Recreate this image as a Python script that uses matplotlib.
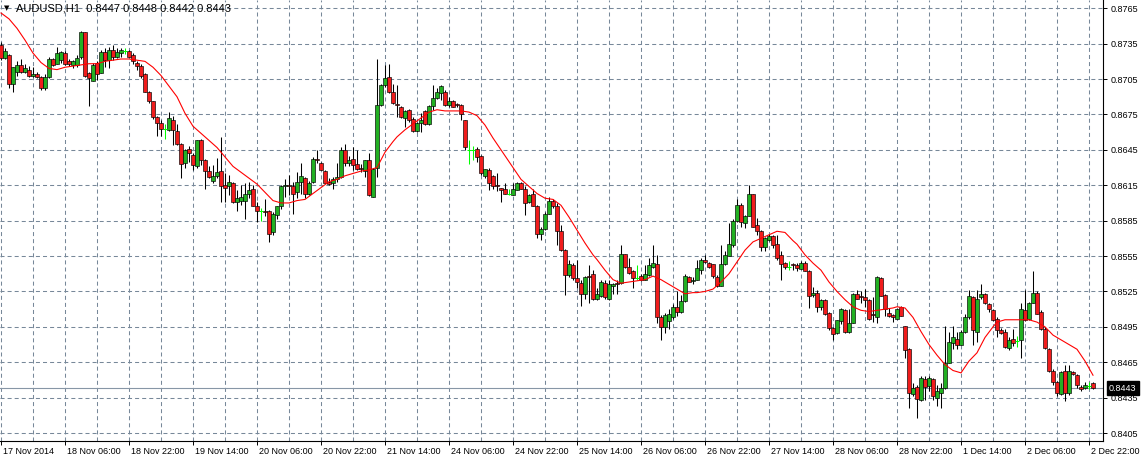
import matplotlib
matplotlib.use("Agg")
import matplotlib.pyplot as plt
import matplotlib.transforms as mtransforms
import numpy as np

# AUDUSD H1 bars, prices in 1/10000 (8734 -> 0.8734)
opens = [
    8734, 8723, 8725, 8701, 8711, 8717, 8711, 8713, 8708, 8709,
    8707, 8697, 8707, 8722, 8718, 8721, 8727, 8720, 8717, 8717,
    8724, 8745, 8710, 8703, 8719, 8710, 8728, 8721, 8730, 8724,
    8727, 8729, 8729, 8725, 8719, 8716, 8709, 8694, 8686, 8673,
    8668, 8663, 8662, 8670, 8661, 8650, 8634, 8646, 8641, 8631,
    8653, 8636, 8627, 8619, 8623, 8627, 8615, 8614, 8617, 8601,
    8602, 8602, 8608, 8612, 8597, 8593, 8593, 8593, 8575, 8590,
    8597, 8614, 8615, 8614, 8609, 8618, 8621, 8608, 8618, 8637,
    8634, 8627, 8618, 8617, 8620, 8622, 8645, 8634, 8637, 8633,
    8630, 8627, 8636, 8605, 8630, 8683, 8700, 8707, 8694, 8684,
    8681, 8672, 8679, 8671, 8661, 8668, 8678, 8667, 8682, 8689,
    8693, 8694, 8683, 8686, 8684, 8683, 8670, 8645, 8645, 8646,
    8640, 8623, 8628, 8623, 8615, 8613, 8612, 8608, 8607, 8611,
    8617, 8612, 8601, 8608, 8597, 8574, 8578, 8591, 8602, 8597,
    8576, 8560, 8539, 8547, 8536, 8532, 8523, 8538, 8540, 8519,
    8521, 8532, 8519, 8530, 8532, 8532, 8557, 8546, 8542, 8536,
    8538, 8535, 8539, 8546, 8548, 8503, 8495, 8500, 8503, 8512,
    8508, 8517, 8537, 8534, 8535, 8543, 8552, 8549, 8548, 8537,
    8530, 8548, 8555, 8564, 8585, 8598, 8583, 8589, 8608, 8581,
    8576, 8563, 8569, 8572, 8565, 8556, 8549, 8546, 8548, 8547,
    8544, 8549, 8542, 8522, 8524, 8512, 8518, 8507, 8494, 8490,
    8500, 8509, 8491, 8498, 8523, 8521, 8520, 8518, 8506, 8503,
    8536, 8522, 8507, 8505, 8502, 8512, 8496, 8476, 8438, 8444,
    8433, 8451, 8445, 8451, 8435, 8439, 8443, 8464, 8481, 8485,
    8480, 8491, 8503, 8520, 8491, 8520, 8523, 8514, 8509, 8502,
    8492, 8491, 8477, 8485, 8483, 8484, 8509, 8502, 8515, 8524,
    8508, 8493, 8476, 8458, 8448, 8438, 8458, 8439, 8457, 8454,
    8444, 8443, 8445, 8447,
]
highs = [
    8736, 8731, 8726, 8715, 8720, 8722, 8718, 8716, 8715, 8711,
    8708, 8709, 8724, 8723, 8732, 8729, 8729, 8722, 8721, 8725,
    8746, 8745, 8711, 8719, 8720, 8730, 8731, 8732, 8734, 8731,
    8731, 8731, 8730, 8727, 8720, 8718, 8710, 8695, 8686, 8674,
    8670, 8667, 8677, 8674, 8667, 8651, 8646, 8648, 8642, 8653,
    8654, 8637, 8631, 8632, 8638, 8656, 8625, 8624, 8618, 8611,
    8615, 8617, 8618, 8615, 8601, 8596, 8603, 8594, 8592, 8597,
    8615, 8620, 8624, 8618, 8626, 8634, 8622, 8619, 8639, 8645,
    8635, 8628, 8621, 8622, 8634, 8647, 8650, 8640, 8647, 8645,
    8633, 8636, 8642, 8630, 8722, 8701, 8717, 8718, 8701, 8700,
    8682, 8679, 8680, 8673, 8669, 8676, 8679, 8683, 8700, 8697,
    8700, 8696, 8690, 8687, 8685, 8684, 8670, 8653, 8648, 8647,
    8641, 8629, 8630, 8624, 8625, 8613, 8617, 8612, 8617, 8618,
    8618, 8614, 8608, 8612, 8598, 8580, 8592, 8605, 8603, 8600,
    8581, 8561, 8552, 8549, 8552, 8535, 8538, 8547, 8543, 8528,
    8535, 8535, 8535, 8532, 8535, 8564, 8557, 8553, 8543, 8547,
    8540, 8547, 8553, 8564, 8556, 8505, 8507, 8510, 8514, 8525,
    8522, 8540, 8538, 8537, 8552, 8553, 8556, 8550, 8548, 8539,
    8564, 8559, 8583, 8586, 8603, 8600, 8590, 8615, 8608, 8587,
    8577, 8571, 8574, 8573, 8573, 8559, 8550, 8551, 8549, 8549,
    8551, 8551, 8543, 8529, 8526, 8519, 8519, 8508, 8495, 8501,
    8511, 8510, 8510, 8524, 8526, 8525, 8527, 8519, 8520, 8538,
    8537, 8523, 8511, 8506, 8511, 8513, 8496, 8477, 8447, 8446,
    8453, 8453, 8453, 8452, 8446, 8447, 8496, 8491, 8496, 8491,
    8492, 8506, 8526, 8521, 8526, 8531, 8524, 8515, 8510, 8503,
    8494, 8493, 8486, 8493, 8487, 8515, 8526, 8516, 8542, 8525,
    8509, 8495, 8477, 8459, 8449, 8458, 8463, 8463, 8458, 8455,
    8446, 8448, 8448, 8448,
]
lows = [
    8721, 8722, 8697, 8694, 8708, 8710, 8710, 8707, 8707, 8706,
    8696, 8696, 8706, 8716, 8718, 8719, 8717, 8716, 8714, 8715,
    8722, 8707, 8682, 8703, 8704, 8710, 8715, 8714, 8721, 8723,
    8724, 8726, 8724, 8718, 8713, 8706, 8694, 8685, 8671, 8657,
    8657, 8654, 8661, 8649, 8649, 8621, 8630, 8635, 8628, 8630,
    8632, 8612, 8621, 8617, 8621, 8601, 8601, 8607, 8600, 8593,
    8598, 8586, 8604, 8597, 8584, 8585, 8589, 8567, 8573, 8586,
    8595, 8605, 8607, 8591, 8604, 8608, 8604, 8607, 8617, 8634,
    8628, 8617, 8615, 8612, 8618, 8621, 8631, 8631, 8628, 8628,
    8626, 8622, 8606, 8605, 8622, 8682, 8698, 8693, 8684, 8673,
    8672, 8664, 8669, 8660, 8660, 8660, 8666, 8666, 8679, 8688,
    8687, 8682, 8681, 8681, 8681, 8670, 8645, 8633, 8636, 8635,
    8624, 8621, 8611, 8612, 8610, 8601, 8608, 8607, 8607, 8611,
    8612, 8590, 8600, 8597, 8570, 8569, 8577, 8591, 8596, 8564,
    8559, 8522, 8537, 8535, 8528, 8513, 8519, 8515, 8518, 8518,
    8520, 8519, 8518, 8523, 8523, 8531, 8545, 8540, 8528, 8535,
    8534, 8535, 8538, 8545, 8498, 8484, 8490, 8493, 8502, 8504,
    8507, 8516, 8533, 8531, 8535, 8540, 8549, 8545, 8536, 8529,
    8530, 8547, 8555, 8563, 8584, 8580, 8579, 8589, 8580, 8573,
    8559, 8559, 8568, 8562, 8552, 8535, 8544, 8543, 8543, 8542,
    8544, 8542, 8511, 8520, 8508, 8509, 8505, 8492, 8484, 8489,
    8497, 8490, 8490, 8498, 8519, 8515, 8512, 8501, 8499, 8498,
    8521, 8504, 8503, 8499, 8502, 8504, 8469, 8426, 8436, 8418,
    8432, 8433, 8441, 8433, 8428, 8426, 8442, 8464, 8476, 8476,
    8480, 8490, 8502, 8480, 8482, 8519, 8514, 8508, 8500, 8486,
    8489, 8477, 8475, 8479, 8478, 8469, 8500, 8501, 8515, 8506,
    8492, 8476, 8457, 8446, 8436, 8437, 8432, 8437, 8454, 8443,
    8441, 8442, 8442, 8442,
]
closes = [
    8723, 8729, 8701, 8715, 8717, 8711, 8714, 8708, 8709, 8707,
    8697, 8707, 8722, 8717, 8727, 8728, 8718, 8718, 8720, 8723,
    8745, 8708, 8706, 8717, 8709, 8728, 8721, 8730, 8724, 8728,
    8730, 8729, 8724, 8720, 8716, 8708, 8694, 8686, 8673, 8668,
    8663, 8663, 8672, 8662, 8650, 8633, 8645, 8642, 8632, 8653,
    8636, 8627, 8622, 8623, 8626, 8614, 8613, 8618, 8601, 8604,
    8605, 8608, 8611, 8597, 8593, 8593, 8592, 8574, 8591, 8597,
    8614, 8615, 8614, 8608, 8618, 8623, 8608, 8617, 8637, 8636,
    8628, 8617, 8616, 8620, 8622, 8645, 8634, 8636, 8632, 8629,
    8629, 8636, 8607, 8629, 8683, 8700, 8706, 8694, 8685, 8683,
    8673, 8678, 8670, 8661, 8668, 8670, 8667, 8682, 8689, 8694,
    8699, 8683, 8686, 8681, 8683, 8675, 8647, 8645, 8645, 8639,
    8625, 8629, 8617, 8614, 8614, 8611, 8608, 8608, 8612, 8617,
    8612, 8600, 8607, 8597, 8574, 8578, 8591, 8602, 8597, 8576,
    8560, 8539, 8548, 8536, 8533, 8523, 8537, 8537, 8519, 8523,
    8533, 8520, 8531, 8531, 8531, 8557, 8546, 8541, 8536, 8536,
    8535, 8540, 8547, 8549, 8503, 8495, 8505, 8506, 8512, 8508,
    8517, 8538, 8533, 8535, 8545, 8552, 8550, 8546, 8538, 8530,
    8548, 8556, 8565, 8585, 8598, 8584, 8589, 8608, 8580, 8576,
    8563, 8570, 8572, 8564, 8553, 8548, 8546, 8546, 8547, 8545,
    8549, 8542, 8521, 8524, 8512, 8518, 8506, 8494, 8489, 8501,
    8510, 8491, 8498, 8523, 8519, 8520, 8518, 8502, 8505, 8537,
    8521, 8510, 8504, 8503, 8510, 8504, 8475, 8439, 8443, 8434,
    8452, 8444, 8452, 8436, 8441, 8443, 8464, 8482, 8486, 8480,
    8491, 8503, 8521, 8492, 8519, 8523, 8515, 8510, 8501, 8492,
    8490, 8478, 8484, 8481, 8483, 8510, 8501, 8515, 8524, 8506,
    8493, 8477, 8458, 8448, 8439, 8457, 8439, 8458, 8455, 8446,
    8442, 8446, 8445, 8443,
]

# moving average (red line) read at these bars
ma_bar = [
    0, 2, 4, 6, 8, 10, 12, 14, 16, 18, 20, 22, 24, 26, 28, 30, 32, 34, 36, 38,
    40, 42, 44, 46, 48, 50, 52, 54, 56, 58, 60, 62, 64, 66, 68, 70, 72, 74, 76, 78,
    80, 82, 84, 86, 88, 90, 92, 94, 96, 98, 99, 101, 103, 105, 107, 109, 111, 113, 115, 117,
    119, 121, 123, 126, 128, 130, 132, 134, 136, 138, 140, 142, 144, 146, 148, 149, 151, 153, 155, 157,
    159, 161, 163, 165, 167, 169, 171, 173, 174, 176, 178, 180, 182, 184, 186, 188, 190, 192, 194, 196,
    198, 199, 201, 203, 205, 207, 209, 211, 213, 215, 217, 219, 221, 223, 224, 226, 228, 230, 232, 234,
    236, 238, 240, 242, 244, 246, 248, 249, 251, 253, 255, 257, 259, 261, 263, 265, 267, 269, 271, 273,
]
ma_val = [
    8761, 8756, 8748, 8738, 8727, 8719, 8714, 8713, 8715, 8716, 8717, 8718, 8718, 8720, 8721, 8722, 8722, 8721, 8720, 8715,
    8708, 8699, 8690, 8676, 8665, 8659, 8653, 8647, 8639, 8631, 8626, 8621, 8616, 8609, 8602, 8600, 8600, 8602, 8603, 8608,
    8613, 8618, 8620, 8623, 8625, 8627, 8628, 8630, 8643, 8652, 8656, 8662, 8667, 8672, 8677, 8679, 8678, 8678, 8678, 8677,
    8674, 8666, 8655, 8640, 8630, 8620, 8614, 8608, 8604, 8603, 8598, 8588, 8577, 8566, 8556, 8552, 8543, 8535, 8532, 8533,
    8534, 8535, 8538, 8535, 8531, 8527, 8523, 8524, 8524, 8525, 8527, 8533, 8540, 8550, 8560, 8567, 8570, 8573, 8576, 8575,
    8568, 8565, 8556, 8549, 8543, 8533, 8525, 8518, 8512, 8509, 8508, 8509, 8510, 8511, 8512, 8511, 8503, 8491, 8480, 8471,
    8463, 8458, 8456, 8466, 8473, 8486, 8495, 8499, 8501, 8501, 8501, 8501, 8499, 8495, 8488, 8484, 8480, 8476, 8466, 8454,
]

date_bar = [0, 16, 32, 48, 64, 80, 96, 112, 128, 144, 160, 176, 192, 208, 224, 240, 256, 272]
date_labels = [
    "17 Nov 2014", "18 Nov 06:00", "18 Nov 22:00", "19 Nov 14:00", "20 Nov 06:00",
    "20 Nov 22:00", "21 Nov 14:00", "24 Nov 06:00", "24 Nov 22:00", "25 Nov 14:00",
    "26 Nov 06:00", "26 Nov 22:00", "27 Nov 14:00", "28 Nov 06:00", "28 Nov 22:00",
    "1 Dec 14:00", "2 Dec 06:00", "2 Dec 22:00",
]
price_levels = [8405, 8435, 8465, 8495, 8525, 8555, 8585, 8615, 8645, 8675, 8705, 8735, 8765]
last_price = 8443
title = "AUDUSD,H1  0.8447 0.8448 0.8442 0.8443"

plt.rcParams["font.family"] = ["Liberation Sans", "DejaVu Sans"]
plt.rcParams["lines.scale_dashes"] = False

W, H = 1146, 458
fig = plt.figure(figsize=(W / 100, H / 100), dpi=100)
fig.patch.set_facecolor("white")
ax = fig.add_axes([0, 17 / H, 1103 / W, 441 / H])
ax.set_facecolor("white")

o = np.array(opens) / 1e4
h = np.array(highs) / 1e4
l = np.array(lows) / 1e4
c = np.array(closes) / 1e4
x = np.arange(len(o))

grid_kw = dict(color="#778899", lw=0.75, linestyle=(0, (2.9, 2.2)), zorder=0)
for p in price_levels:
    ax.axhline(p / 1e4, **grid_kw)
for b in range(0, len(o) + 2, 8):
    ax.axvline(b, **grid_kw)

ax.axhline(last_price / 1e4, color="#8796a6", lw=0.8, zorder=1)

flat = c == o
up = c > o
body_col = np.where(up, "#22b022", "#f01c1c")
ax.vlines(x[~flat], l[~flat], h[~flat], color="black", lw=0.75, zorder=3)
ax.bar(x[~flat], np.abs(c - o)[~flat], bottom=np.minimum(o, c)[~flat], width=0.78,
       color=body_col[~flat], edgecolor="black", linewidth=0.45, zorder=4)
ax.vlines(x[flat], l[flat], h[flat], color="#00ff00", lw=0.75, zorder=4)
ax.hlines(c[flat], x[flat] - 0.45, x[flat] + 0.45, color="#00ff00", lw=0.75, zorder=4)

ax.plot(ma_bar, np.array(ma_val) / 1e4, color="#ff0000", lw=0.8, zorder=5)

ax.set_xlim(-0.25, 275.5)
ax.set_ylim(0.8772 - 441 * 0.00008475, 0.8772)

for s in ("left", "top"):
    ax.spines[s].set_visible(False)
for s in ("right", "bottom"):
    ax.spines[s].set_color("black")
    ax.spines[s].set_linewidth(0.8)

ax.yaxis.tick_right()
ax.set_yticks([p / 1e4 for p in price_levels])
ax.set_yticklabels([f"{p / 1e4:.4f}" for p in price_levels])
ax.tick_params(axis="y", length=3, width=0.7, pad=2.5, labelsize=6.5, colors="black")

ax.set_xticks(date_bar)
ax.set_xticklabels(date_labels, ha="left")
ax.tick_params(axis="x", length=3, width=0.7, pad=1.5, labelsize=6.5, colors="black")
shift = mtransforms.ScaledTranslation(2 / 100, 0, fig.dpi_scale_trans)
for lab in ax.get_xticklabels():
    lab.set_transform(lab.get_transform() + shift)

ax.annotate(f"{last_price / 1e4:.4f}", xy=(1, last_price / 1e4),
            xycoords=("axes fraction", "data"), xytext=(4.3, 0), textcoords="offset points",
            ha="left", va="center", color="white", fontsize=6.5,
            bbox=dict(boxstyle="square,pad=0.25", fc="black", ec="black"),
            annotation_clip=False, zorder=10)

fig.text(4 / W, 1 - 8.5 / H, "\u25bc", fontsize=5, family="DejaVu Sans", va="center", ha="left")
fig.text(16 / W, 1 - 8.5 / H, title, fontsize=8, va="center", ha="left", color="black")

fig.savefig("out.png", dpi=100, facecolor="white")
